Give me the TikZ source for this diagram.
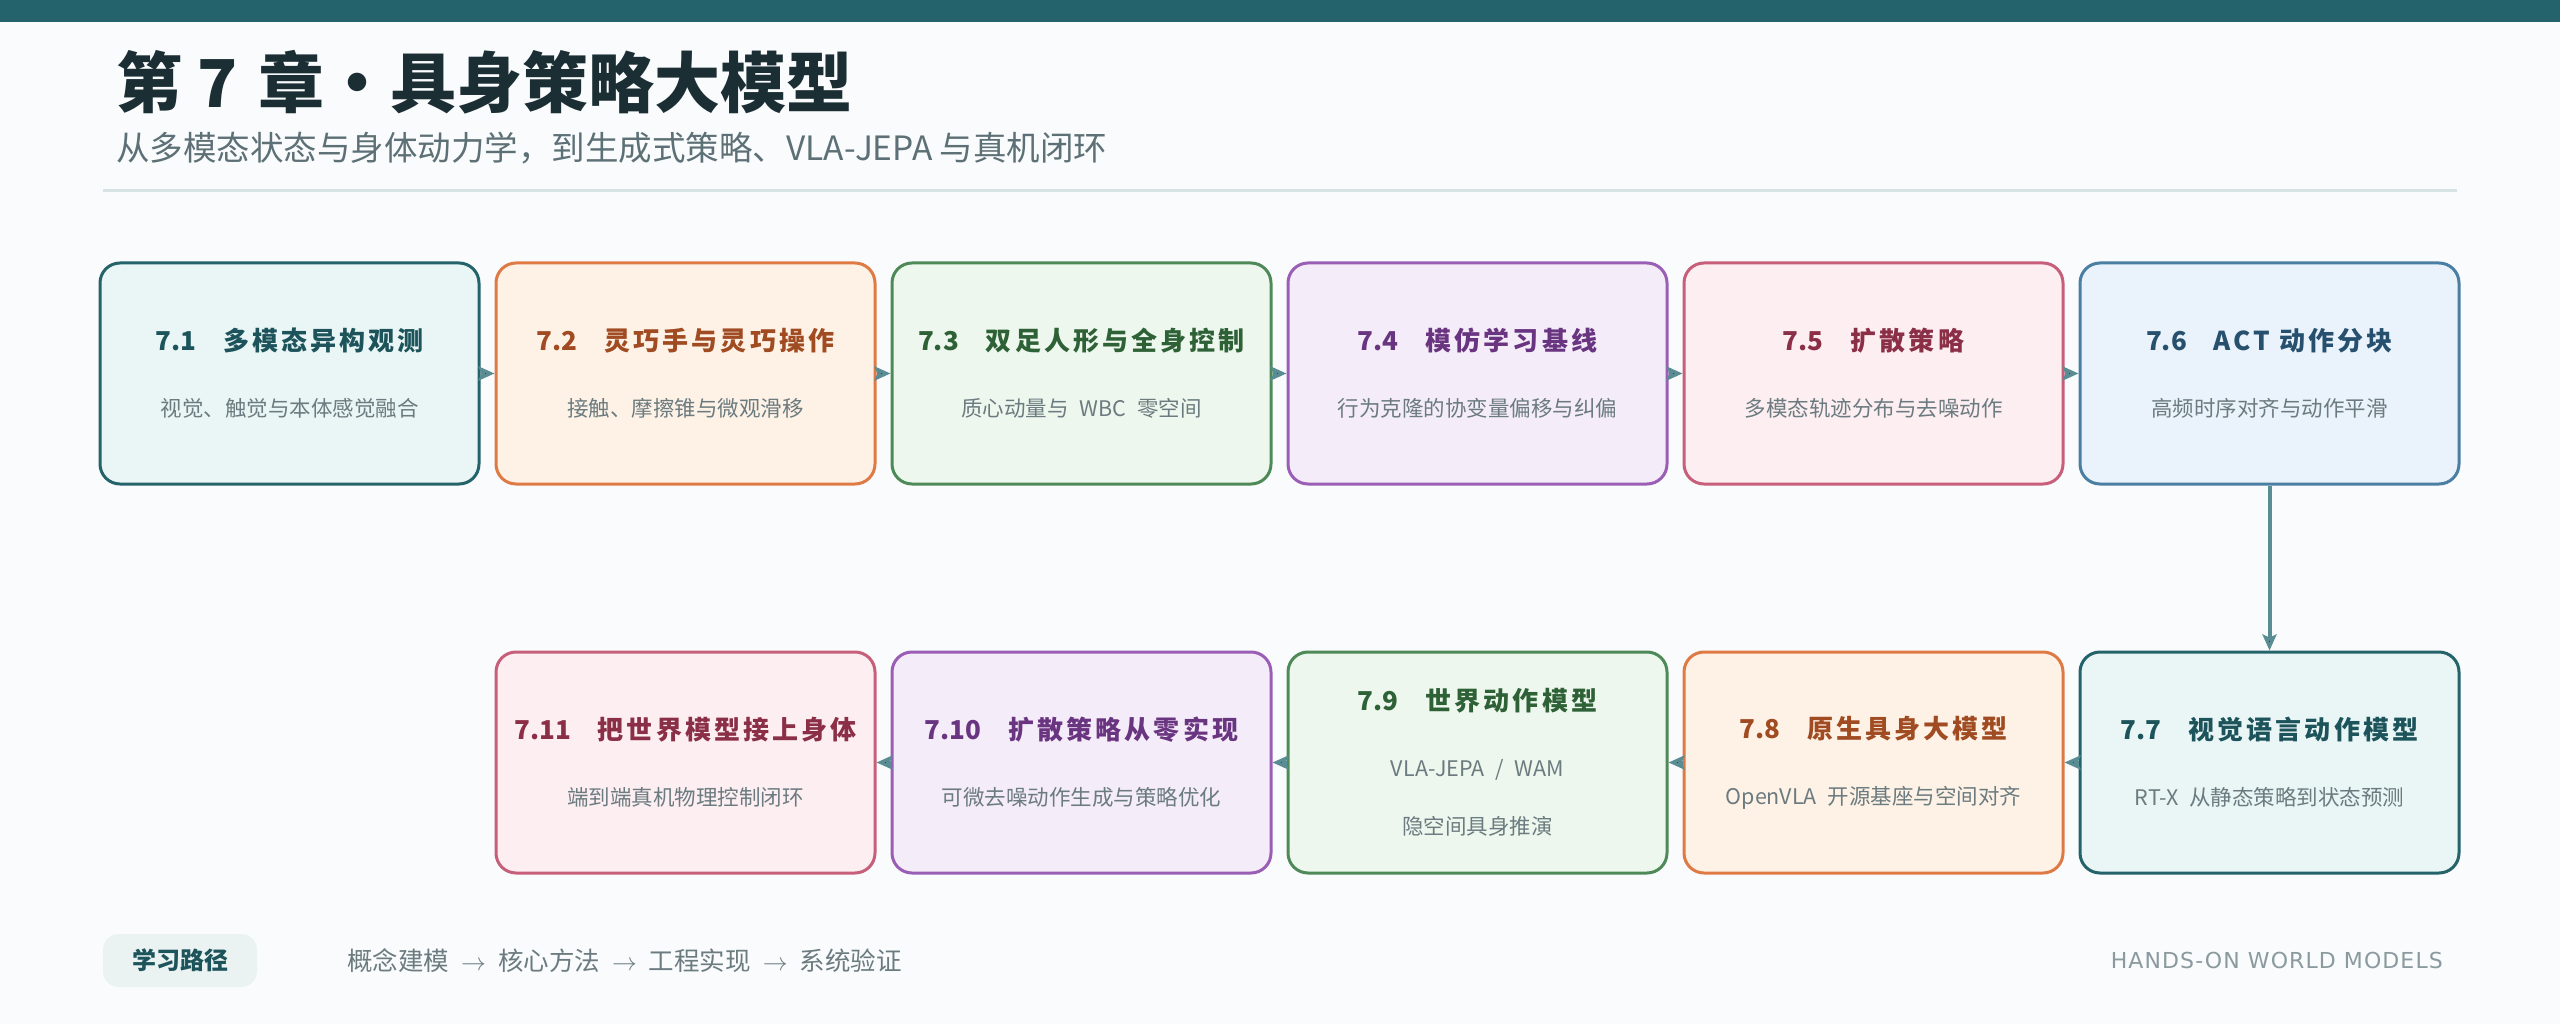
\documentclass[tikz,border=0pt]{standalone}
\usepackage{fontspec}
\setmainfont{Noto Sans CJK SC}
\newfontfamily\brandfont[LetterSpace=5]{DejaVu Sans}
\usetikzlibrary{arrows.meta,positioning}

\definecolor{pagebg}{HTML}{F9FBFD}
\definecolor{barteal}{HTML}{24636B}
\definecolor{headink}{HTML}{1B2E33}
\definecolor{leadgray}{HTML}{5D7075}
\definecolor{rulegray}{HTML}{D6E2E4}
\definecolor{subgray}{HTML}{6B7B7F}
\definecolor{arrowteal}{HTML}{5A8D93}
\definecolor{brandgray}{HTML}{8A9A9E}
\definecolor{pillfill}{HTML}{EAF2F2}
% box palettes
\definecolor{tealline}{HTML}{25636B}  \definecolor{tealfill}{HTML}{EAF6F6}  \definecolor{tealtxt}{HTML}{1D545B}
\definecolor{orgline}{HTML}{E07A45}   \definecolor{orgfill}{HTML}{FEF2E6}   \definecolor{orgtxt}{HTML}{A04B22}
\definecolor{grnline}{HTML}{4E8A58}   \definecolor{grnfill}{HTML}{EDF7EE}   \definecolor{grntxt}{HTML}{2E6136}
\definecolor{purline}{HTML}{9A5FB5}   \definecolor{purfill}{HTML}{F5ECF9}   \definecolor{purtxt}{HTML}{693480}
\definecolor{redline}{HTML}{C85F7A}   \definecolor{redfill}{HTML}{FDEEF2}   \definecolor{redtxt}{HTML}{8B2F47}
\definecolor{bluline}{HTML}{4A7FA3}   \definecolor{blufill}{HTML}{EAF3FB}   \definecolor{blutxt}{HTML}{27506E}

\newcommand{\ttl}[3]{\textcolor{#1}{\fontsize{26}{30}\selectfont\bfseries #2\hspace{27pt}\addfontfeatures{LetterSpace=12}#3}}
\newcommand{\tostep}{\hspace{12pt}$\rightarrow$\hspace{12pt}}

\begin{document}
\begin{tikzpicture}[x=1pt,y=-1pt,node distance=396pt,on grid]
       \tikzstyle{chap}=[rounded corners=20pt,line width=3pt,minimum width=379pt,minimum height=221pt,
                         inner sep=0pt,align=center,text=subgray,font=\fontsize{21.5}{58}\selectfont]
       \tikzstyle{teal}=[chap,draw=tealline,fill=tealfill]
       \tikzstyle{org}=[chap,draw=orgline,fill=orgfill]
       \tikzstyle{grn}=[chap,draw=grnline,fill=grnfill]
       \tikzstyle{pur}=[chap,draw=purline,fill=purfill]
       \tikzstyle{red}=[chap,draw=redline,fill=redfill]
       \tikzstyle{blu}=[chap,draw=bluline,fill=blufill]
       \tikzstyle{flow}=[-{Stealth[length=16pt,width=14pt,inset=3pt]},line width=4pt,draw=arrowteal]

       \fill[pagebg] (0,0) rectangle (2560,1024);
       \useasboundingbox (0,0) rectangle (2560,1024);
       \fill[barteal] (0,0) rectangle (2560,22);

       \node[anchor=west,inner sep=0pt,text=headink,font=\fontsize{66}{70}\selectfont\bfseries] (title) at (116,82) {第 7\hspace{6pt} 章・具身策略大模型};
       \node[anchor=west,inner sep=0pt,text=leadgray,font=\fontsize{33.5}{36}\selectfont] (lead) at (116,148) {从多模态状态与身体动力学，到生成式策略、VLA-JEPA 与真机闭环};
       \draw[rulegray,line width=3pt] (103,191) -- (2457,191);

       % row 1
       \node[teal] (s71) at (289.5,373.5) {\ttl{tealtxt}{7.1}{多模态异构观测}\\[8pt]视觉、触觉与本体感觉融合};
       \node[org] (s72) [right=of s71] {\ttl{orgtxt}{7.2}{灵巧手与灵巧操作}\\[8pt]接触、摩擦锥与微观滑移};
       \node[grn] (s73) [right=of s72] {\ttl{grntxt}{7.3}{双足人形与全身控制}\\[8pt]质心动量与\enspace WBC\enspace 零空间};
       \node[pur] (s74) [right=of s73] {\ttl{purtxt}{7.4}{模仿学习基线}\\[8pt]行为克隆的协变量偏移与纠偏};
       \node[red] (s75) [right=of s74] {\ttl{redtxt}{7.5}{扩散策略}\\[8pt]多模态轨迹分布与去噪动作};
       \node[blu] (s76) [right=of s75] {\ttl{blutxt}{7.6}{ACT 动作分块}\\[8pt]高频时序对齐与动作平滑};

       % row 2
       \node[teal] (s77) [below=389pt of s76] {\ttl{tealtxt}{7.7}{视觉语言动作模型}\\[8pt]RT-X\enspace 从静态策略到状态预测};
       \node[org] (s78) [left=of s77] {\ttl{orgtxt}{7.8}{原生具身大模型}\\[8pt]OpenVLA\enspace 开源基座与空间对齐};
       \node[grn] (s79) [left=of s78] {\ttl{grntxt}{7.9}{世界动作模型}\\[8pt]VLA-JEPA\enspace/\enspace WAM\\隐空间具身推演};
       \node[pur] (s710) [left=of s79] {\ttl{purtxt}{7.10}{扩散策略从零实现}\\[8pt]可微去噪动作生成与策略优化};
       \node[red] (s711) [left=of s710] {\ttl{redtxt}{7.11}{把世界模型接上身体}\\[8pt]端到端真机物理控制闭环};

       \path[flow]
       (s71) edge (s72)
       (s72) edge (s73)
       (s73) edge (s74)
       (s74) edge (s75)
       (s75) edge (s76)
       (s76) edge (s77)
       (s77) edge (s78)
       (s78) edge (s79)
       (s79) edge (s710)
       (s710) edge (s711);

       % footer
       \node[fill=pillfill,rounded corners=16pt,minimum width=154pt,minimum height=53pt,inner sep=0pt,
             text=tealtxt,font=\fontsize{24}{28}\selectfont\bfseries] (path) at (180,960.5) {学习路径};
       \node[anchor=west,inner sep=0pt,text=subgray,font=\fontsize{25.5}{28}\selectfont] (steps) at (347,961)
            {概念建模\tostep 核心方法\tostep 工程实现\tostep 系统验证};
       \node[anchor=east,inner sep=0pt,text=brandgray,font=\brandfont\fontsize{22}{26}\selectfont] (brand) at (2443,960)
            {HANDS-ON WORLD MODELS};
\end{tikzpicture}
\end{document}
